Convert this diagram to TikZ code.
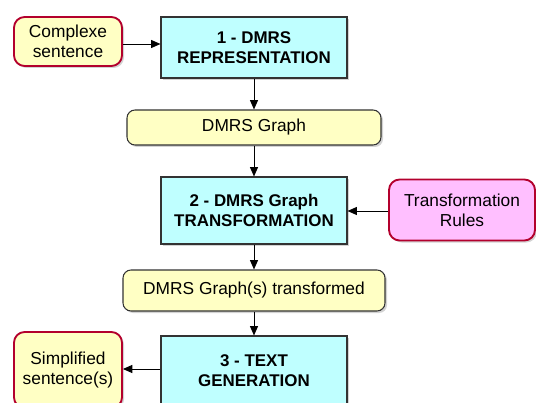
\documentclass[tikz,border=0pt]{standalone}
\usepackage{fontspec}
\setmainfont{Liberation Sans}
\usetikzlibrary{arrows.meta,shadows}
\definecolor{cyanfill}{HTML}{BFFFFF}
\definecolor{yelfill}{HTML}{FFFFC4}
\definecolor{pinkfill}{HTML}{FFBFFF}
\definecolor{redline}{HTML}{B3002D}
\definecolor{darkline}{HTML}{333333}
\tikzset{
  base/.style={align=center, inner sep=0pt, font=\fontsize{13}{15}\selectfont,
    drop shadow={shadow xshift=1.5pt, shadow yshift=-1.5pt, opacity=0.35, fill=gray}},
  stepbox/.style={base, draw=darkline, line width=0.8pt, fill=cyanfill, font=\fontsize{12.7}{15}\selectfont\bfseries},
  datbox/.style={base, draw=darkline, line width=0.8pt, fill=yelfill, rounded corners=6pt},
  iobox/.style={base, draw=redline, line width=1.4pt, fill=yelfill, rounded corners=8pt},
  rulebox/.style={base, draw=redline, line width=1.4pt, fill=pinkfill, rounded corners=8pt},
  conn/.style={-{Triangle[length=7pt,width=6pt]}, line width=0.7pt, draw=black}
}
\begin{document}
\begin{tikzpicture}[x=0.75pt,y=-0.75pt]
\useasboundingbox (0,0) rectangle (536,403);
\begin{scope}
\clip (0,0) rectangle (536,403);
\node[iobox, minimum width=108*0.75pt, minimum height=49*0.75pt] (cs) at (68,41.5) {Complexe\\sentence};
\node[stepbox, minimum width=186*0.75pt, minimum height=61*0.75pt] (s1) at (254,47.5) {1 - DMRS\\REPRESENTATION};
\node[datbox, minimum width=254*0.75pt, minimum height=35*0.75pt] (g1) at (254,127.5) {DMRS Graph};
\node[stepbox, minimum width=186*0.75pt, minimum height=67*0.75pt] (s2) at (254,210.5) {2 - DMRS Graph\\TRANSFORMATION};
\node[rulebox, minimum width=146*0.75pt, minimum height=61*0.75pt] (tr) at (462,210) {Transformation\\Rules};
\node[datbox, minimum width=262*0.75pt, minimum height=41*0.75pt] (g2) at (254,290.5) {DMRS Graph(s) transformed};
\node[stepbox, minimum width=186*0.75pt, minimum height=70*0.75pt] (s3) at (254,371) {3 - TEXT\\GENERATION};
\node[iobox, minimum width=108*0.75pt, minimum height=76*0.75pt] (ss) at (68,370) {Simplified\\sentence(s)};
\draw[conn] (cs.east |- 0,44) -- (s1.west |- 0,44);
\draw[conn] (s1) -- (g1);
\draw[conn] (g1) -- (s2);
\draw[conn] (tr.west |- 0,211) -- (s2.east |- 0,211);
\draw[conn] (s2) -- (g2);
\draw[conn] (g2) -- (s3);
\draw[conn] (s3.west |- 0,369) -- (ss.east |- 0,369);
\end{scope}
\end{tikzpicture}
\end{document}
